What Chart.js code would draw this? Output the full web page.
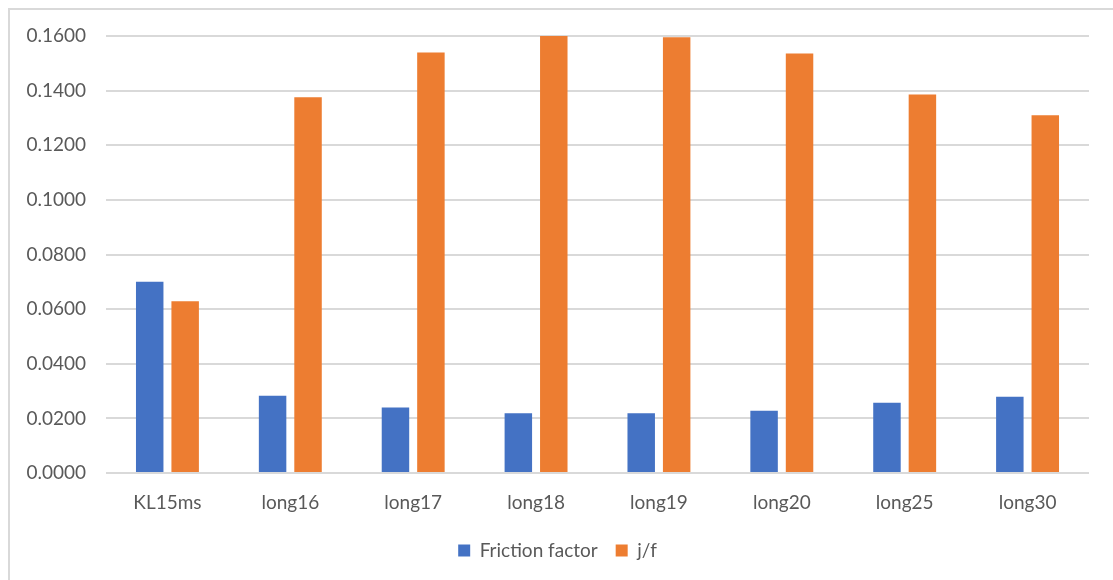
<!DOCTYPE html>
<html>
<head>
<meta charset="utf-8">
<script src="https://cdn.jsdelivr.net/npm/chart.js@4"></script>
<style>
  html, body { margin: 0; padding: 0; background: #fff; overflow: hidden; }
  .frame {
    position: absolute; left: 8px; top: 8px; width: 1200px; height: 700px;
    border-left: 2px solid #d9d9d9; border-top: 2px solid #d9d9d9;
  }
  #chart { position: absolute; left: 0; top: 0; }
</style>
</head>
<body>
<div class="frame"></div>
<canvas id="chart" width="1113" height="580"></canvas>
<script>
const categories = ['KL15ms', 'long16', 'long17', 'long18', 'long19', 'long20', 'long25', 'long30'];
const frictionFactor = [0.0700, 0.0283, 0.0240, 0.0219, 0.0219, 0.0228, 0.0257, 0.0279];
const jOverF = [0.0629, 0.1376, 0.1540, 0.1602, 0.1595, 0.1536, 0.1386, 0.1310];

const font = { family: 'Lato, "Open Sans", sans-serif', size: 19 };
const textColor = '#595959';
const gridColor = '#d9d9d9';

const ctx = document.getElementById('chart').getContext('2d');
new Chart(ctx, {
    type: 'bar',
    data: {
        labels: categories,
        datasets: [
            {
                label: 'Friction factor',
                data: frictionFactor,
                backgroundColor: '#4472C4',
                categoryPercentage: 0.577,
                barPercentage: 0.775
            },
            {
                label: 'j/f',
                data: jOverF,
                backgroundColor: '#ED7D31',
                categoryPercentage: 0.577,
                barPercentage: 0.775
            }
        ]
    },
    options: {
        responsive: false,
        animation: false,
        layout: {
            padding: { top: 36, right: 24, bottom: 10, left: 26 }
        },
        scales: {
            x: {
                grid: { display: false, drawTicks: false },
                border: { display: false },
                ticks: { color: textColor, font: font, padding: 18, maxRotation: 0 },
                afterFit: (scale) => { scale.height = 50; }
            },
            y: {
                min: 0,
                max: 0.16,
                grid: { color: gridColor, lineWidth: 2, drawTicks: false },
                border: { display: false },
                ticks: {
                    stepSize: 0.02,
                    color: textColor,
                    font: font,
                    padding: 20,
                    callback: (v) => Number(v).toFixed(4)
                },
                // plot area starts at x=106 (26 padding + 80 axis)
                afterFit: (scale) => { scale.width = 80; }
            }
        },
        plugins: {
            legend: {
                display: true,
                position: 'bottom',
                labels: {
                    color: textColor,
                    font: font,
                    boxWidth: 12,
                    boxHeight: 12,
                    padding: 18
                }
            },
            tooltip: { enabled: false }
        }
    }
});
</script>
</body>
</html>
